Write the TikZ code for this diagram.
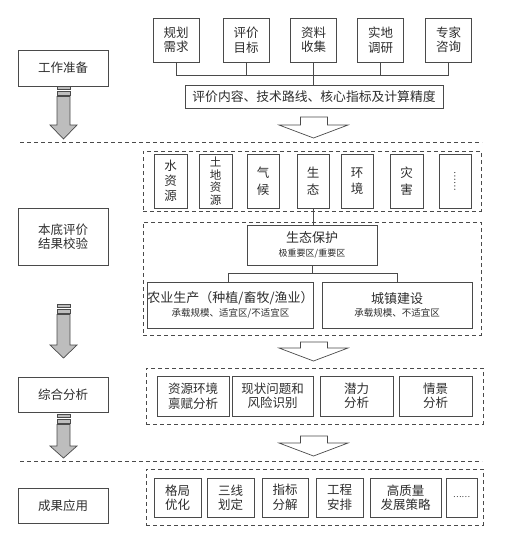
\documentclass[tikz,border=0pt]{standalone}
\usepackage{fontspec}
\newfontfamily\cjk{Noto Sans CJK SC}
\definecolor{linec}{HTML}{4A4A4A}
\definecolor{textc}{HTML}{2E2E2E}
\definecolor{arrowfill}{HTML}{BDBDBD}
\tikzset{
  box/.style={draw=linec, line width=0.8pt, fill=white, inner sep=0pt, align=center, text=textc,
    font=\cjk\fontsize{12.5}{14.5}\selectfont},
  dbox/.style={draw=linec, line width=0.8pt, dash pattern=on 4pt off 3pt, inner sep=0pt},
  conn/.style={draw=linec, line width=0.8pt},
  sep/.style={draw=linec, line width=0.8pt, dash pattern=on 4pt off 3pt},
  grayarrow/.style={draw=linec, line width=0.7pt, fill=arrowfill},
  hollowarrow/.style={draw=linec, line width=0.7pt, fill=white},
  vtext/.style={font=\cjk\fontsize{12.5}{16.5}\selectfont},
}
\newcommand{\grayarr}[3]{% top, head, tip
  \path[grayarrow] (57,#1) rectangle (70,#1+3.5);
  \path[grayarrow] (57,#1+5) rectangle (70,#1+9);
  \path[grayarrow] (57,#1+10.5) -- (70,#1+10.5) -- (70,#2) -- (77,#2) -- (63.5,#3) -- (50,#2) -- (57,#2) -- cycle;
}
\newcommand{\hollowarr}[3]{% top, head, tip
  \path[hollowarrow] (300.5,#1) -- (327.5,#1) -- (327.5,#2) -- (348,#2) -- (313.5,#3) -- (279,#2) -- (300.5,#2) -- cycle;
}
\begin{document}
\begin{tikzpicture}[x=1pt,y=-1pt]
\useasboundingbox (0,0) rectangle (512,541);
\fill[white] (0,0) rectangle (512,541);

% separators
\draw[sep] (20,142) -- (482,142);
\draw[sep] (20,461) -- (482,461);

% dashed group boxes
\node[dbox, minimum width=338pt, minimum height=60pt] (g1) at (312,181) {};
\node[dbox, minimum width=338pt, minimum height=113pt] (g2) at (312,278.5) {};
\node[dbox, minimum width=337pt, minimum height=56pt] (g3) at (314.5,396) {};
\node[dbox, minimum width=337pt, minimum height=56pt] (g4) at (314.5,497) {};

% left stage boxes
\node[box, minimum width=90pt, minimum height=36pt] (prep) at (63,68) {工作准备};
\node[box, minimum width=90pt, minimum height=57pt] (base) at (63,236.5) {本底评价\\结果校验};
\node[box, minimum width=90pt, minimum height=35pt] (synth) at (63,394.5) {综合分析};
\node[box, minimum width=90pt, minimum height=35pt] (apply) at (63,505.5) {成果应用};

% top row
\node[box, minimum width=46pt, minimum height=44pt] (t1) at (176,40) {规划\\需求};
\node[box, minimum width=46pt, minimum height=44pt] (t2) at (246,40) {评价\\目标};
\node[box, minimum width=46pt, minimum height=44pt] (t3) at (313.5,40) {资料\\收集};
\node[box, minimum width=46pt, minimum height=44pt] (t4) at (380.5,40) {实地\\调研};
\node[box, minimum width=46pt, minimum height=44pt] (t5) at (448.5,40) {专家\\咨询};
\node[box, minimum width=258pt, minimum height=23pt, font=\cjk\fontsize{12.8}{14}\selectfont] (wide) at (314,96.5) {评价内容、技术路线、核心指标及计算精度};

\coordinate (hbar) at (0,75);
\draw[conn] (t1.south) -- (t1.south |- hbar) -- (t5.south |- hbar) -- (t5.south);
\draw[conn] (t2.south) -- (t2.south |- hbar);
\draw[conn] (t4.south) -- (t4.south |- hbar);
\draw[conn] (t3.south) -- (t3.south |- wide.north);

% element row
\node[box, minimum width=33pt, minimum height=54pt, font=\cjk\fontsize{12.5}{15}\selectfont] (e1) at (170.5,181) {水\\资\\源};
\node[box, minimum width=33pt, minimum height=54pt, font=\cjk\fontsize{11.5}{12.5}\selectfont] (e2) at (215.5,181) {土\\地\\资\\源};
\node[box, minimum width=32pt, minimum height=54pt, vtext] (e3) at (263,181) {气\\候};
\node[box, minimum width=32pt, minimum height=54pt, vtext] (e4) at (313,181) {生\\态};
\node[box, minimum width=32pt, minimum height=54pt, vtext] (e5) at (357,181) {环\\境};
\node[box, minimum width=33pt, minimum height=54pt, vtext] (e6) at (406.5,181) {灾\\害};
\node[box, minimum width=32pt, minimum height=54pt] (e7) at (455,181) {\rotatebox{-90}{\fontsize{9}{9}\selectfont ……}};

% eco / agri / urban
\node[box, minimum width=130pt, minimum height=40pt] (eco) at (312,245)
  {\fontsize{13}{16}\selectfont 生态保护\\[-1pt]{\fontsize{9}{11}\selectfont 极重要区/重要区}};
\node[box, minimum width=165pt, minimum height=46pt] (agri) at (230.5,305)
  {\fontsize{13}{16}\selectfont 农业生产（种植/畜牧/渔业）\\[-1pt]{\fontsize{9.5}{11}\selectfont 承载规模、适宜区/不适宜区}};
\node[box, minimum width=150pt, minimum height=46pt] (urban) at (397,305)
  {\fontsize{13}{16}\selectfont 城镇建设\\[-1pt]{\fontsize{9.5}{11}\selectfont 承载规模、不适宜区}};

\draw[conn] (e4.south) -- (e4.south |- eco.north);
\coordinate (split) at (312,273);
\coordinate (sl) at (228,273);
\coordinate (sr) at (397,273);
\draw[conn] (eco.south) -- (split);
\draw[conn] (sl |- agri.north) -- (sl) -- (sr) -- (urban.north);

% analysis row
\node[box, minimum width=72pt, minimum height=40pt] (a1) at (193,396) {资源环境\\禀赋分析};
\node[box, minimum width=81pt, minimum height=40pt] (a2) at (272.5,396) {现状问题和\\风险识别};
\node[box, minimum width=73pt, minimum height=40pt] (a3) at (356.5,396) {潜力\\分析};
\node[box, minimum width=73pt, minimum height=40pt] (a4) at (435.5,396) {情景\\分析};

% application row
\node[box, minimum width=47pt, minimum height=39pt] (p1) at (177.5,497.5) {格局\\优化};
\node[box, minimum width=47pt, minimum height=39pt] (p2) at (230.5,497.5) {三线\\划定};
\node[box, minimum width=46pt, minimum height=39pt] (p3) at (285,497.5) {指标\\分解};
\node[box, minimum width=47pt, minimum height=39pt] (p4) at (339.5,497.5) {工程\\安排};
\node[box, minimum width=71pt, minimum height=39pt] (p5) at (405.5,497.5) {高质量\\发展策略};
\node[box, minimum width=31pt, minimum height=39pt] (p6) at (461.5,497.5) {\fontsize{8}{8}\selectfont ……};

% stage arrows
\grayarr{86}{125}{139}
\grayarr{304}{345}{358}
\grayarr{414}{446}{458}
\hollowarr{117}{125}{138}
\hollowarr{342}{348}{361}
\hollowarr{436}{443}{456}
\end{tikzpicture}
\end{document}
